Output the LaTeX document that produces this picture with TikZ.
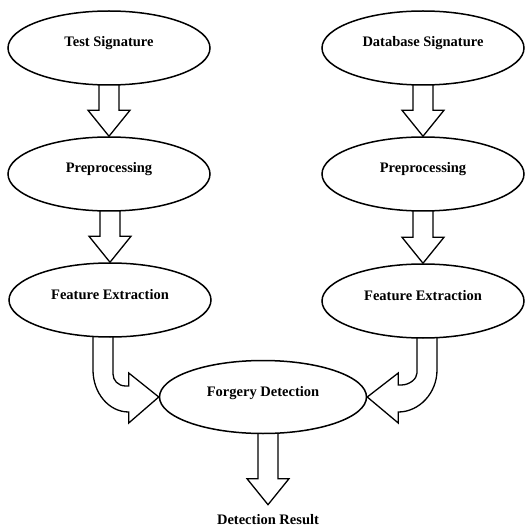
\documentclass[tikz,border=0pt]{standalone}
\usepackage{fontspec}
\setmainfont{Liberation Serif}
\usetikzlibrary{shapes,calc,positioning,backgrounds}

% hollow block arrow straight down
\newcommand{\blockdown}[2]{%
  \draw[blockarrow] let \p1=(#1.south), \p2=(#2.north) in
    (\x2-10pt,\y1+6pt) -- (\x2-10pt,\y2+26pt) -- (\x2-21pt,\y2+26pt) -- (\p2)
    -- (\x2+21pt,\y2+26pt) -- (\x2+10pt,\y2+26pt) -- (\x2+10pt,\y1+6pt);}

\begin{document}
\begin{tikzpicture}[x=1pt,y=-1pt,
    stage/.style={draw, ellipse, line width=1.5pt, fill=white, minimum width=202pt, minimum height=74pt, inner sep=0pt, text height=10pt, text depth=12pt, font=\bfseries\fontsize{14.5}{17}\selectfont},
    outcome/.style={inner xsep=0pt, inner ysep=10pt, font=\bfseries\fontsize{14.5}{17}\selectfont},
    blockarrow/.style={draw, line width=1.3pt, line join=miter}
]
\useasboundingbox (0,0) rectangle (532,529);

% Left branch
\node[stage] (test) at (109,48) {Test Signature};
\node[stage] (prepl) at (109,174) {Preprocessing};
\node[stage] (featl) at (110,300) {Feature Extraction};

% Right branch
\node[stage] (dbase) at (423,48) {Database Signature};
\node[stage] (prepr) at (423,174) {Preprocessing};
\node[stage] (featr) at (423,301) {Feature Extraction};

% Decision
\node[stage, minimum width=207pt, minimum height=73pt] (forgery) at (263,397) {Forgery Detection};
\node[outcome] (result) at (268,520) {Detection Result};

\begin{scope}[on background layer]
% Straight arrows
\blockdown{test}{prepl}
\blockdown{prepl}{featl}
\blockdown{dbase}{prepr}
\blockdown{prepr}{featr}
\blockdown{forgery}{result}

% Bent arrows
\draw[blockarrow] let \p1=(featl.south), \p2=(forgery.west) in
  (\x1-17pt,\y1+6pt) -- (\x1-17pt,\y2+27pt)
  .. controls (\x1-17pt,\y2+4pt) and (\x2-50pt,\y2-15pt) .. (\x2-30pt,\y2-15pt)
  -- (\x2-30pt,\y2-26pt) -- (\p2) -- (\x2-30pt,\y2+24pt) -- (\x2-30pt,\y2+11pt)
  -- (\x2-33pt,\y2+11pt)
  .. controls (\x2-41pt,\y2+11pt) and (\x1+3pt,\y2+17pt) .. (\x1+3pt,\y2+23pt)
  -- (\x1+3pt,\y1+6pt);
\draw[blockarrow] let \p1=(featr.south), \p2=(forgery.east) in
  (\x1+14pt,\y1+6pt) -- (\x1+14pt,\y2+27pt)
  .. controls (\x1+14pt,\y2+4pt) and (\x2+52pt,\y2-15pt) .. (\x2+31pt,\y2-15pt)
  -- (\x2+31pt,\y2-26pt) -- (\p2) -- (\x2+31pt,\y2+24pt) -- (\x2+31pt,\y2+12pt)
  -- (\x2+34pt,\y2+12pt)
  .. controls (\x2+42pt,\y2+12pt) and (\x1-6pt,\y2+18pt) .. (\x1-6pt,\y2+24pt)
  -- (\x1-6pt,\y1+6pt);
\end{scope}

\end{tikzpicture}
\end{document}
